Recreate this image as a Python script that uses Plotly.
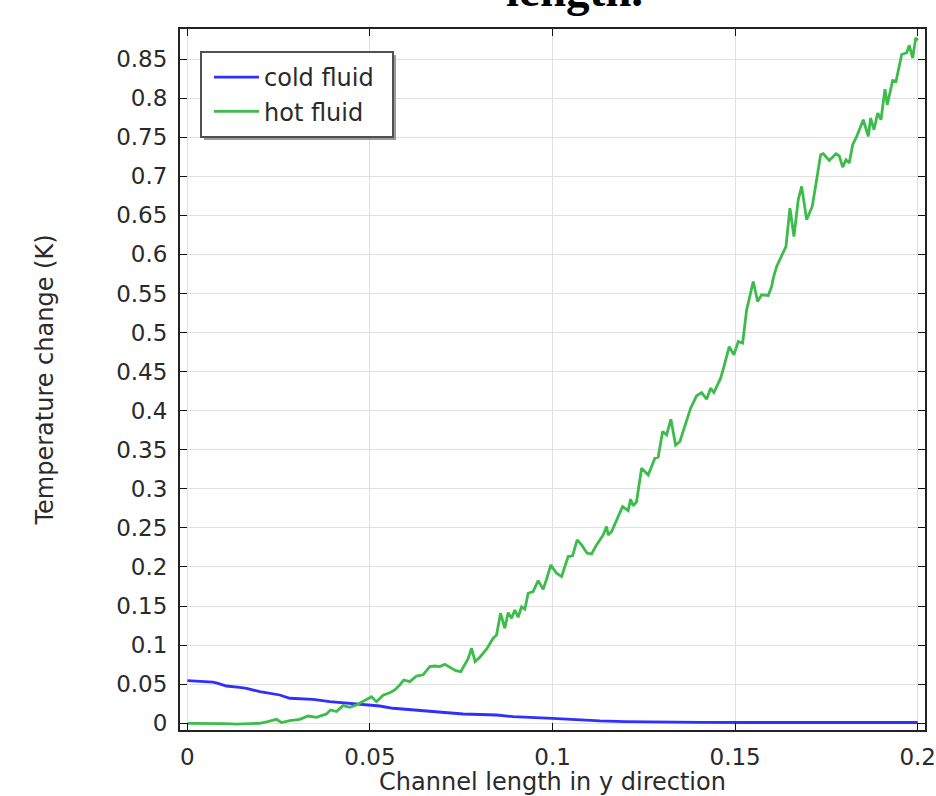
import plotly.graph_objects as go

# ---- data ----
cold_x = [0.0, 0.00337, 0.00701, 0.00838, 0.01068, 0.01433, 0.01616, 0.01981, 0.02529,
          0.02803, 0.03441, 0.03899, 0.04356, 0.04904, 0.05268, 0.05633, 0.06181, 0.06912,
          0.07551, 0.08466, 0.08921, 0.09995, 0.10611, 0.11296, 0.11981, 0.12666, 0.14036,
          0.15405, 0.16775, 0.18145, 0.2]
cold_y = [0.0545, 0.0538, 0.0527, 0.051, 0.0477, 0.046, 0.0448, 0.0405, 0.0362,
          0.032, 0.0307, 0.0277, 0.0256, 0.0234, 0.0221, 0.0192, 0.017, 0.0136,
          0.0119, 0.0106, 0.0085, 0.0064, 0.0045, 0.003, 0.0022, 0.0017, 0.0012,
          0.001, 0.001, 0.001, 0.001]

hot_x = [0.0, 0.00337, 0.00693, 0.01022, 0.01351, 0.01707, 0.01981, 0.0220, 0.02438,
         0.02575, 0.02803, 0.03077, 0.03304, 0.03534, 0.03808, 0.03918, 0.04082, 0.04263,
         0.04447, 0.0463, 0.04811, 0.05041, 0.05178, 0.05359, 0.05542, 0.05679, 0.05816,
         0.05926, 0.06090, 0.06274, 0.06455, 0.06638, 0.06775, 0.06912, 0.07049, 0.07205,
         0.07351, 0.07488, 0.07605, 0.07688, 0.07781, 0.07879, 0.08008, 0.08192, 0.08373,
         0.08466, 0.08575, 0.08693, 0.08784, 0.08877, 0.08967, 0.09058, 0.09151, 0.09241,
         0.09332, 0.09468, 0.09605, 0.09742, 0.09836, 0.09953, 0.10110, 0.10247, 0.10427,
         0.10548, 0.10674, 0.10795, 0.10948, 0.11068, 0.11205, 0.11386, 0.11479, 0.11523,
         0.11616, 0.11753, 0.11918, 0.12071, 0.12137, 0.12208, 0.12301, 0.12438, 0.12619,
         0.12803, 0.12893, 0.13014, 0.13123, 0.13241, 0.13370, 0.13488, 0.13625, 0.13781,
         0.13945, 0.14082, 0.14219, 0.14329, 0.14419, 0.14603, 0.14693, 0.14838, 0.14967,
         0.15085, 0.15205, 0.15315, 0.15496, 0.15616, 0.15726, 0.15907, 0.16000, 0.16044,
         0.16137, 0.16274, 0.16392, 0.16501, 0.16611, 0.16729, 0.16822, 0.16959, 0.17112,
         0.17214, 0.17342, 0.17414, 0.17578, 0.17762, 0.17852, 0.17945, 0.18036, 0.18126,
         0.18219, 0.18329, 0.18510, 0.18647, 0.18712, 0.18803, 0.18904, 0.18995, 0.19104,
         0.19167, 0.19315, 0.19405, 0.19562, 0.19699, 0.19770, 0.19863, 0.19945, 0.2]
hot_y = [0.0, 0.0, 0.0, -0.0005, -0.001, 0.0, 0.0, 0.002, 0.005,
         0.001, 0.0033, 0.005, 0.0093, 0.0077, 0.012, 0.017, 0.015, 0.0226,
         0.0205, 0.0234, 0.0277, 0.034, 0.0277, 0.036, 0.039, 0.0426, 0.049,
         0.0554, 0.0533, 0.0605, 0.062, 0.0725, 0.0733, 0.0725, 0.0755, 0.0717,
         0.0673, 0.066, 0.0768, 0.0827, 0.096, 0.0789, 0.0845, 0.0947, 0.1088,
         0.113, 0.1408, 0.1216, 0.1416, 0.1344, 0.145, 0.1357, 0.149, 0.146,
         0.1664, 0.1685, 0.1825, 0.1715, 0.1843, 0.2026, 0.192, 0.1877, 0.2133,
         0.2142, 0.2346, 0.2282, 0.2176, 0.2167, 0.2282, 0.241, 0.2517, 0.241,
         0.2453, 0.2594, 0.2773, 0.2722, 0.2868, 0.2782, 0.2837, 0.3264, 0.3178,
         0.3392, 0.3405, 0.3733, 0.369, 0.389, 0.356, 0.3605, 0.38, 0.4032,
         0.419, 0.4232, 0.4147, 0.4288, 0.4232, 0.4416, 0.4565, 0.482, 0.4714,
         0.4885, 0.4864, 0.529, 0.5653, 0.5397, 0.5483, 0.5474, 0.5589, 0.5696,
         0.5845, 0.5982, 0.61, 0.6592, 0.6229, 0.67, 0.6869, 0.6443, 0.6613,
         0.6903, 0.7275, 0.7288, 0.7202, 0.7288, 0.726, 0.7117, 0.721, 0.7168,
         0.7403, 0.7509, 0.7723, 0.7509, 0.7745, 0.7595, 0.7809, 0.7723, 0.8115,
         0.7915, 0.8226, 0.8213, 0.8557, 0.858, 0.8675, 0.8512, 0.877, 0.8737]

x_ticks = [0, 0.05, 0.1, 0.15, 0.2]
x_ticklabels = ["0", "0.05", "0.1", "0.15", "0.2"]
y_ticks = [round(0.05 * i, 2) for i in range(18)]
y_ticklabels = ["0"] + [("%g" % v) for v in y_ticks[1:]]

FONT = "DejaVu Sans"
W, H = 936, 796
ML, MR, MT, MB = 180, 11, 29, 66
pw = W - ML - MR
ph = H - MT - MB


def px(xp):
    return (xp - ML) / pw


def py(yp):
    return (H - MB - yp) / ph


fig = go.Figure()
fig.add_trace(go.Scatter(x=cold_x, y=cold_y, mode="lines", name="cold fluid",
                         line=dict(color="#2f2fff", width=2.8)))
fig.add_trace(go.Scatter(x=hot_x, y=hot_y, mode="lines", name="hot fluid",
                         line=dict(color="#3cbd4b", width=2.8)))

axis_common = dict(showline=True, linecolor="#222", linewidth=2, mirror="ticks",
                   ticks="inside", ticklen=7, tickcolor="#111", tickwidth=1,
                   showgrid=True, gridcolor="#e0e0e0", gridwidth=1, zeroline=False,
                   automargin=False,
                   tickfont=dict(family=FONT, size=23, color="#2a2a2a"))

fig.update_xaxes(range=[-0.00203, 0.2020], tickvals=x_ticks, ticktext=x_ticklabels,
                 title=dict(text="Channel length in y direction",
                            font=dict(family=FONT, size=24, color="#2a2a2a"), standoff=12),
                 ticklabelstandoff=5, **axis_common)
fig.update_yaxes(range=[-0.0086, 0.8884], tickvals=y_ticks, ticktext=y_ticklabels,
                 title=dict(text="Temperature change (K)",
                            font=dict(family=FONT, size=24, color="#2a2a2a"), standoff=56),
                 ticklabelstandoff=6, **axis_common)

# legend frame with drop shadow (drawn as shapes, legend itself is frameless)
fig.add_shape(type="rect", xref="paper", yref="paper",
              x0=px(204), x1=px(396), y0=py(140), y1=py(55),
              fillcolor="#9a9a9a", line=dict(width=0), layer="above")
fig.add_shape(type="rect", xref="paper", yref="paper",
              x0=px(201), x1=px(393), y0=py(137), y1=py(52),
              fillcolor="white", line=dict(color="#505050", width=2), layer="above")

fig.add_annotation(text="<b>length.</b>", xref="paper", yref="paper",
                   x=px(574), y=py(-10), xanchor="center", yanchor="middle",
                   showarrow=False, font=dict(family="Liberation Serif", size=47, color="#000"))

fig.update_layout(
    width=W, height=H,
    margin=dict(l=ML, r=MR, t=MT, b=MB, pad=0),
    paper_bgcolor="white", plot_bgcolor="white",
    font=dict(family=FONT, color="#2a2a2a"),
    showlegend=True,
    legend=dict(x=px(209), y=py(55), xanchor="left", yanchor="top",
                bgcolor="rgba(0,0,0,0)", borderwidth=0,
                font=dict(family=FONT, size=24, color="#2a2a2a"),
                tracegroupgap=0, itemwidth=45),
)

fig.write_html("out.html")
